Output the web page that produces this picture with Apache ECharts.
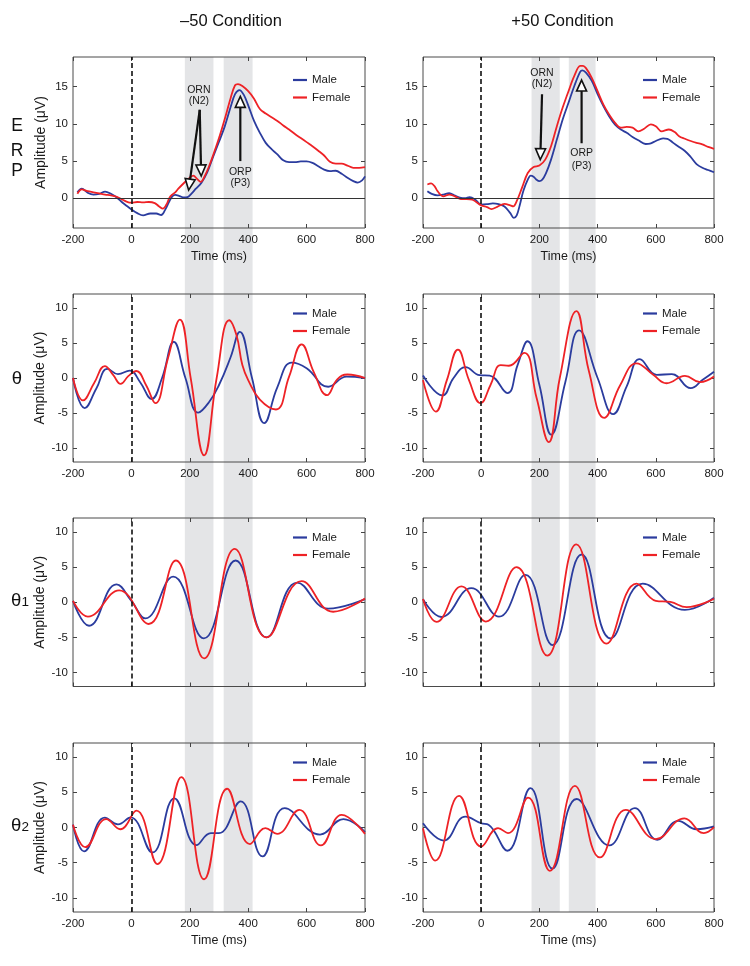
<!DOCTYPE html>
<html><head><meta charset="utf-8">
<script src="https://cdn.jsdelivr.net/npm/echarts@6/dist/echarts.min.js"></script>
<style>html,body{margin:0;padding:0;background:#fff}#c{width:750px;height:966px}</style>
</head><body><div id="c"></div>
<script>
// ---------- DATA (time ms, amplitude µV) ----------
const timeTicks = [-200, 0, 200, 400, 600, 800];
const erpTicks = [0, 5, 10, 15];
const thetaTicks = [-10, -5, 0, 5, 10];
const bandsMinus = [[183, 281], [316, 415]];
const bandsPlus = [[173, 270], [301, 393]];

const erpMinusMale = [[-185,0.8],[-170,1.3],[-150,0.75],[-130,0.5],[-110,0.6],[-90,0.9],[-70,0.6],[-50,0.1],[-30,-0.6],[-10,-1.2],[0,-1.5],[20,-2.0],[40,-2.3],[65,-2.05],[85,-2.05],[102,-2.25],[115,-1.6],[130,-0.4],[140,0.25],[150,0.45],[165,0.3],[180,0.1],[192,0.15],[205,0.6],[220,1.25],[240,2.1],[260,3.5],[280,5.6],[300,7.6],[320,9.7],[340,12.3],[355,14.0],[370,14.55],[385,13.9],[400,12.5],[420,10.4],[440,8.8],[460,7.45],[480,6.6],[500,5.9],[520,5.1],[540,4.85],[560,4.85],[580,4.95],[600,4.95],[620,4.75],[640,4.3],[660,3.85],[680,3.65],[700,3.7],[720,3.3],[740,2.75],[760,2.3],[775,2.1],[790,2.4],[800,2.95]];
const erpMinusFemale = [[-185,0.6],[-170,1.2],[-150,0.95],[-130,0.8],[-110,0.65],[-90,0.5],[-70,0.4],[-50,0.2],[-30,-0.2],[-10,-0.55],[0,-0.6],[20,-0.5],[40,-0.55],[60,-0.5],[80,-0.65],[95,-1.1],[108,-1.4],[120,-0.85],[130,0.05],[140,0.5],[150,0.8],[160,1.25],[180,2.05],[200,2.75],[212,3.05],[225,2.6],[237,2.2],[250,2.9],[265,4.2],[280,5.8],[300,8.1],[320,10.7],[340,13.5],[355,15.2],[365,15.35],[380,15.1],[400,14.4],[420,13.4],[440,12.0],[460,11.4],[480,10.9],[500,10.4],[520,9.8],[540,9.25],[560,8.65],[580,8.1],[600,7.55],[620,7.0],[640,6.4],[660,5.75],[680,4.9],[700,4.65],[720,4.65],[740,4.4],[760,4.1],[780,4.1],[800,4.2]];
const erpPlusMale = [[-185,0.95],[-170,0.6],[-150,0.4],[-130,0.5],[-110,0.7],[-90,0.35],[-70,0.05],[-55,0.0],[-40,0.15],[-20,-0.2],[0,-0.85],[20,-0.8],[40,-0.7],[60,-0.8],[80,-1.1],[100,-2.0],[112,-2.65],[122,-2.3],[132,-1.0],[145,1.0],[160,2.5],[170,3.05],[180,2.9],[190,2.5],[200,2.3],[210,2.5],[222,3.3],[240,5.2],[260,7.9],[280,10.6],[300,12.85],[320,15.1],[340,17.0],[348,17.2],[360,16.9],[380,15.8],[400,14.0],[420,12.4],[440,11.0],[460,9.9],[480,9.25],[500,8.8],[520,8.25],[540,7.8],[565,7.3],[580,7.35],[600,7.7],[625,8.05],[640,8.0],[660,7.45],[680,6.9],[700,6.35],[720,5.55],[740,4.6],[760,4.1],[780,3.8],[800,3.5]];
const erpPlusFemale = [[-185,1.85],[-172,2.0],[-160,1.6],[-150,0.95],[-130,0.25],[-110,0.5],[-90,0.25],[-70,-0.1],[-50,-0.1],[-30,-0.2],[0,-0.95],[20,-1.2],[35,-1.45],[55,-1.15],[80,-0.75],[100,-0.95],[110,-1.1],[122,-0.4],[140,1.4],[160,3.4],[180,4.2],[200,4.4],[220,5.2],[240,7.0],[260,9.7],[280,12.2],[300,14.4],[320,16.45],[340,17.8],[350,17.8],[360,17.5],[380,16.2],[400,14.4],[420,12.6],[440,11.25],[460,10.15],[480,9.5],[500,9.6],[520,9.5],[540,9.0],[560,9.35],[583,9.95],[600,9.7],[620,9.0],[645,9.25],[665,8.9],[680,8.35],[700,8.0],[720,7.7],[740,7.45],[760,7.25],[780,6.9],[800,6.65]];

const thetaMinusMale = [[-200,0],[-160,-4.3],[-120,-1.5],[-82,1.3],[-46,0.55],[-6,1.05],[30,-0.6],[69,-3.0],[105,0],[145,5.15],[185,0],[229,-4.95],[265,-3.5],[300,-1.0],[340,3.0],[371,6.6],[413,0],[455,-6.45],[500,-1.3],[549,2.2],[600,1.4],[674,-1.25],[737,0.2],[800,0]];
const thetaMinusFemale = [[-200,0],[-166,-3.2],[-128,-0.75],[-91,1.7],[-62,0.4],[-37,-0.85],[-10,0.3],[17,1.0],[50,-1.0],[82,-3.6],[125,2.8],[166,8.35],[203,0],[249,-11.05],[292,0],[335,8.25],[360,6.1],[380,1.85],[400,-0.3],[440,-3.1],[495,-4.5],[540,0.2],[583,4.8],[625,0.8],[670,-2.45],[705,-0.2],[740,0.5],[800,0]];
const thetaPlusMale = [[-200,0.35],[-133,-2.5],[-95,0],[-54,1.55],[-5,0.4],[29,0.35],[90,-2.15],[125,1.85],[159,5.25],[200,-1.0],[241,-8.1],[289,-0.6],[336,6.8],[400,0],[454,-5.15],[500,-1.2],[545,2.7],[603,0.45],[655,0.55],[720,-1.45],[760,-0.3],[800,0.9]];
const thetaPlusFemale = [[-200,-0.3],[-156,-4.8],[-118,-0.3],[-80,4.05],[-42,-0.3],[-2,-3.6],[32,-1.0],[67,1.85],[95,1.75],[148,3.6],[190,-2.8],[232,-9.15],[270,0],[327,9.55],[370,1.0],[423,-5.7],[478,-1.0],[534,2.1],[590,0.5],[637,-0.75],[700,0.3],[752,-0.6],[800,0.2]];

const theta1MinusMale = [[-200,0.2],[-145,-3.35],[-51,2.55],[0,0.2],[48,-2.3],[143,3.65],[248,-5.15],[357,5.95],[463,-5.0],[568,2.8],[674,-0.9],[800,0.45]];
const theta1MinusFemale = [[-200,0.2],[-149,-2.05],[-42,1.7],[59,-3.1],[152,5.95],[249,-8.0],[354,7.6],[463,-5.0],[583,3.0],[691,-1.35],[800,0.55]];
const theta1PlusMale = [[-200,0.45],[-137,-2.1],[-34,2.0],[61,-2.05],[152,3.9],[245,-6.1],[345,6.8],[445,-5.15],[555,2.65],[700,-1.1],[800,0.65]];
const theta1PlusFemale = [[-200,0.45],[-154,-2.8],[-68,2.25],[16,-2.75],[121,5.0],[227,-7.6],[327,8.25],[431,-5.9],[534,2.65],[600,0.2],[650,0.05],[706,-0.7],[800,0.5]];

const theta2MinusMale = [[-200,0.4],[-162,-3.4],[-91,1.4],[-46,0.45],[-3,1.45],[72,-3.55],[147,4.15],[223,-2.5],[272,-0.8],[300,-0.8],[374,3.7],[449,-4.1],[525,2.75],[646,-1.0],[726,1.2],[800,-0.65]];
const theta2MinusFemale = [[-200,0.4],[-158,-2.8],[-86,1.2],[-38,-0.25],[17,2.4],[89,-5.2],[171,7.15],[249,-7.35],[328,5.5],[406,-2.35],[459,-0.1],[499,-0.9],[575,2.5],[649,-2.55],[720,1.8],[800,-0.9]];
const theta2PlusMale = [[-200,0.6],[-129,-1.85],[-54,1.55],[0,0.6],[25,0.4],[90,-3.3],[169,5.6],[245,-5.85],[328,4.05],[440,-2.55],[528,2.75],[605,-1.75],[677,0.95],[740,-0.25],[800,0.15]];
const theta2PlusFemale = [[-200,-0.1],[-158,-4.7],[-76,4.5],[0,-2.7],[58,-0.1],[92,-0.8],[161,4.25],[236,-6.15],[322,5.9],[408,-4.25],[497,2.5],[600,-1.65],[698,1.3],[765,-0.8],[800,0.05]];

// annotations in data coordinates: arrows [t0, v0, tTip, vTip]; labels [t, v]
const minusArrows = [[234,11.9,196,1.1],[234,11.9,239,3.0],[373,5.0,373,13.7]];
const minusLabelPos = [[231,14.6],[231,13.05],[373,3.5],[373,2.0]];
const plusArrows = [[209,14.0,203,5.2],[345,7.4,345,15.9]];
const plusLabelPos = [[209,16.9],[209,15.4],[345,6.1],[345,4.3]];
const annotTexts = ['ORN','(N2)','ORP','(P3)'];

// ---------- CHART ----------
const FONT = '"Liberation Sans", Arial, Helvetica, sans-serif';
const MALE = '#2b3c9e', FEMALE = '#ee2226', INK = '#1a1a1a';
const cols = [
  {left:73, width:292, bands:bandsMinus, arrows:minusArrows, labels:minusLabelPos},
  {left:423, width:291, bands:bandsPlus, arrows:plusArrows, labels:plusLabelPos}
];
const rows = [
  {top:57, height:171, min:-4, max:19, ticks:erpTicks, xLabels:true, xName:true, zero:true, legOff:16.5, smooth:0.35,
   data:[[erpMinusMale, erpMinusFemale],[erpPlusMale, erpPlusFemale]]},
  {top:294, height:168, min:-12, max:12, ticks:thetaTicks, xLabels:true, xName:false, zero:false, legOff:13, smooth:0.45,
   data:[[thetaMinusMale, thetaMinusFemale],[thetaPlusMale, thetaPlusFemale]]},
  {top:518, height:168.5, min:-12, max:12, ticks:thetaTicks, xLabels:false, xName:false, zero:false, legOff:13, smooth:0.45,
   data:[[theta1MinusMale, theta1MinusFemale],[theta1PlusMale, theta1PlusFemale]]},
  {top:743, height:169, min:-12, max:12, ticks:thetaTicks, xLabels:true, xName:true, zero:false, legOff:13, smooth:0.45,
   data:[[theta2MinusMale, theta2MinusFemale],[theta2PlusMale, theta2PlusFemale]]}
];

const grid = [], xAxis = [], yAxis = [], series = [], legend = [];
const tickStyle = {color:'#444', width:1};
const noLine = {show:false, onZero:false};

function renderArrow(p, api) {
  const a = api.coord([api.value(0), api.value(1)]);
  const b = api.coord([api.value(2), api.value(3)]);
  const dx = b[0]-a[0], dy = b[1]-a[1], len = Math.hypot(dx, dy);
  const ux = dx/len, uy = dy/len, hl = 11, hw = 5;
  const bx = b[0]-ux*hl, by = b[1]-uy*hl;
  return {type:'group', children:[
    {type:'line', shape:{x1:a[0], y1:a[1], x2:bx, y2:by}, style:{stroke:'#111', lineWidth:2.2}},
    {type:'polygon', shape:{points:[[b[0],b[1]],[bx-uy*hw, by+ux*hw],[bx+uy*hw, by-ux*hw]]},
     style:{fill:'#fff', stroke:'#111', lineWidth:1.6}}
  ]};
}
function renderLabel(p, api) {
  const a = api.coord([api.value(0), api.value(1)]);
  return {type:'text', x:a[0], y:a[1], style:{text:annotTexts[p.dataIndex], fontSize:10.5, fontFamily:FONT,
    fill:INK, align:'center', verticalAlign:'middle', textAlign:'center', textVerticalAlign:'middle'}};
}

rows.forEach((row, r) => cols.forEach((col, c) => {
  const gi = grid.length;
  grid.push({left:col.left, width:col.width, top:row.top, height:row.height, show:true,
    borderColor:'#4a4a4a', borderWidth:1, backgroundColor:'transparent'});
  const xb = xAxis.length;
  xAxis.push({gridIndex:gi, type:'value', position:'bottom', min:-200, max:800, interval:200,
    axisLine:noLine, axisTick:{inside:true, length:4, lineStyle:tickStyle}, splitLine:{show:false},
    axisLabel:{show:row.xLabels, margin:6, fontSize:11.5, color:INK, fontFamily:FONT, showMinLabel:true, showMaxLabel:true},
    name: row.xName ? 'Time (ms)' : '', nameLocation:'middle', nameGap:22.5,
    nameTextStyle:{fontSize:12.5, color:INK, fontFamily:FONT}});
  xAxis.push({gridIndex:gi, type:'value', position:'top', min:-200, max:800, interval:200,
    axisLine:noLine, axisTick:{inside:true, length:4, lineStyle:tickStyle}, splitLine:{show:false},
    axisLabel:{show:false}});
  const yb = yAxis.length;
  yAxis.push({gridIndex:gi, type:'value', position:'left', min:row.min, max:row.max,
    axisLine:noLine, axisTick:{inside:true, length:4, customValues:row.ticks, lineStyle:tickStyle},
    axisLabel:{customValues:row.ticks, margin:5, fontSize:11.5, color:INK, fontFamily:FONT},
    splitLine:{show:false},
    name: c === 0 ? 'Amplitude (μV)' : '', nameLocation:'middle', nameGap:25,
    nameTextStyle:{fontSize:14, color:INK, fontFamily:FONT}});
  yAxis.push({gridIndex:gi, type:'value', position:'right', min:row.min, max:row.max,
    axisLine:noLine, axisTick:{inside:true, length:4, customValues:row.ticks, lineStyle:tickStyle},
    axisLabel:{show:false}, splitLine:{show:false}});

  const ml = [{xAxis:0, lineStyle:{type:[5,3], color:'#111', width:1.6}}];
  if (row.zero) ml.push({yAxis:0, lineStyle:{type:'solid', color:'#333', width:1.1}});
  const [male, female] = row.data[c];
  series.push({type:'line', name:'Male', xAxisIndex:xb, yAxisIndex:yb, data:male, smooth:row.smooth,
    symbol:'none', z:3, lineStyle:{width:1.8, color:MALE}, itemStyle:{color:MALE},
    markLine:{silent:true, symbol:['none','none'], label:{show:false}, animation:false, data:ml}});
  series.push({type:'line', name:'Female', xAxisIndex:xb, yAxisIndex:yb, data:female, smooth:row.smooth,
    symbol:'none', z:3, lineStyle:{width:1.8, color:FEMALE}, itemStyle:{color:FEMALE}});
  if (r === 0) {
    series.push({type:'custom', xAxisIndex:xb, yAxisIndex:yb, z:6, silent:true, clip:false,
      data:col.arrows, encode:{x:[0,2], y:[1,3]}, renderItem:renderArrow});
    series.push({type:'custom', xAxisIndex:xb, yAxisIndex:yb, z:6, silent:true, clip:false,
      data:col.labels, encode:{x:0, y:1}, renderItem:renderLabel});
  }
  legend.push({data:['Male','Female'], orient:'vertical', left:col.left+220, top:row.top+row.legOff,
    icon:'rect', itemWidth:14, itemHeight:2.2, itemGap:4.5, padding:0, selectedMode:false,
    textStyle:{fontSize:11.5, color:INK, fontFamily:FONT, lineHeight:13}});
}));

// shaded windows spanning the whole column
cols.forEach((col) => {
  const gi = grid.length;
  grid.push({left:col.left, width:col.width, top:57, height:855, show:false});
  const xi = xAxis.length, yi = yAxis.length;
  xAxis.push({gridIndex:gi, type:'value', min:-200, max:800, show:false});
  yAxis.push({gridIndex:gi, type:'value', min:0, max:1, show:false});
  series.push({type:'custom', xAxisIndex:xi, yAxisIndex:yi, z:-10, silent:true, clip:false,
    data:col.bands, encode:{x:[0,1]},
    renderItem:(p, api) => {
      const a = api.coord([api.value(0), 1]);
      const b = api.coord([api.value(1), 0]);
      return {type:'rect', shape:{x:a[0], y:a[1], width:b[0]-a[0], height:b[1]-a[1]}, style:{fill:'#e4e5e7'}};
    }});
});

function txt(x, y, text, size, extra) {
  return {type:'text', x, y, silent:true, style:Object.assign({text, fontSize:size, fontFamily:FONT, fill:'#111',
    align:'center', verticalAlign:'middle', textAlign:'center', textVerticalAlign:'middle'}, extra || {})};
}
const graphic = [
  txt(231, 21, '\u201350 Condition', 16.5),
  txt(562.5, 21, '+50 Condition', 16.5),
  txt(17, 126.5, 'E', 17.5), txt(17, 151, 'R', 17.5), txt(17, 171, 'P', 17.5),
  txt(17, 378.5, 'θ', 18.5),
  txt(20, 601, '{a|θ}{b|1}', 18.5, {rich:{a:{fontSize:18.5, fontFamily:FONT, verticalAlign:'bottom'}, b:{fontSize:13.5, fontFamily:FONT, verticalAlign:'bottom', padding:[0,0,1,0]}}}),
  txt(20, 825.5, '{a|θ}{b|2}', 18.5, {rich:{a:{fontSize:18.5, fontFamily:FONT, verticalAlign:'bottom'}, b:{fontSize:13.5, fontFamily:FONT, verticalAlign:'bottom', padding:[0,0,1,0]}}})
];

const chart = echarts.init(document.getElementById('c'), null, {renderer:'canvas'});
chart.setOption({
  backgroundColor:'#fff', animation:false,
  textStyle:{fontFamily:FONT},
  grid, xAxis, yAxis, series, legend, graphic
});
</script></body></html>
